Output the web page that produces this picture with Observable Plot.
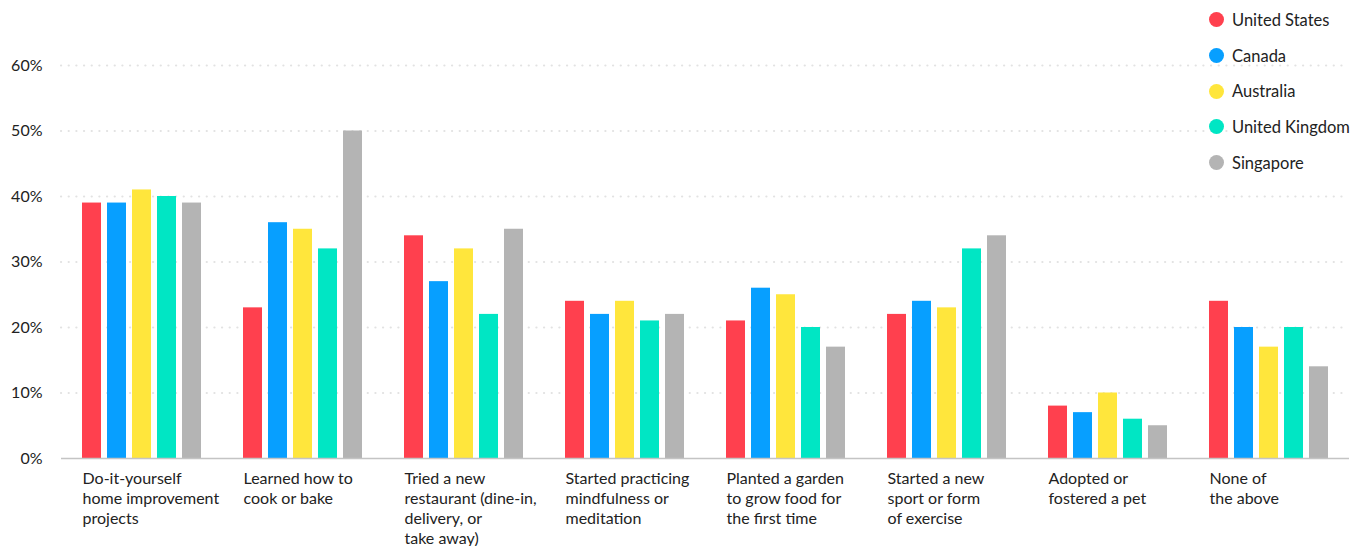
<!DOCTYPE html>
<html>
<head>
<meta charset="utf-8">
<script src="https://cdn.jsdelivr.net/npm/d3@7"></script>
<script src="https://cdn.jsdelivr.net/npm/@observablehq/plot@0.6"></script>
<style>
  html, body { margin: 0; padding: 0; background: #fff; }
  #wrap { position: relative; width: 1366px; height: 546px; font-family: Lato, "Noto Sans", sans-serif; }
  #legend { position: absolute; left: 1209px; top: 2px; }
  .item { display: flex; align-items: center; height: 35.7px; font-size: 16.5px; color: #222; }
  .sw { width: 15px; height: 15px; border-radius: 50%; margin-right: 8px; }
  svg { display: block; }
</style>
</head>
<body>
<div id="wrap"><div id="chart"></div><div id="legend"></div></div>
<script>
const countries = ["United States", "Canada", "Australia", "United Kingdom", "Singapore"];
const colors = ["#ff404e", "#079fff", "#ffe63c", "#00e6c4", "#b4b4b4"];
const categories = ["diy", "cook", "restaurant", "mindfulness", "garden", "sport", "pet", "none"];
const categoryLabels = [
  "Do-it-yourself\nhome improvement\nprojects",
  "Learned how to\ncook or bake",
  "Tried a new\nrestaurant (dine-in,\ndelivery, or\ntake away)",
  "Started practicing\nmindfulness or\nmeditation",
  "Planted a garden\nto grow food for\nthe first time",
  "Started a new\nsport or form\nof exercise",
  "Adopted or\nfostered a pet",
  "None of\nthe above"
];
const unitedStates  = [39, 23, 34, 24, 21, 22, 8, 24];
const canada        = [39, 36, 27, 22, 26, 24, 7, 20];
const australia     = [41, 35, 32, 24, 25, 23, 10, 17];
const unitedKingdom = [40, 32, 22, 21, 20, 32, 6, 20];
const singapore     = [39, 50, 35, 22, 17, 34, 5, 14];
const yTicks = [0, 10, 20, 30, 40, 50, 60];

const series = [unitedStates, canada, australia, unitedKingdom, singapore];
const data = [];
categories.forEach((c, i) => {
  countries.forEach((k, j) => data.push({category: c, country: k, value: series[j][i]}));
});
const labelRows = categories.map((c, i) => ({category: c, label: categoryLabels[i]}));

const chart = Plot.plot({
  width: 1366,
  height: 546,
  marginLeft: 61,
  marginRight: 16,
  marginTop: 65,
  marginBottom: 88,
  style: {fontFamily: "Lato, 'Noto Sans', sans-serif", fontSize: "16px", color: "#222", background: "#fff"},
  fx: {domain: categories, paddingInner: 0.26, paddingOuter: 0.13, axis: null, label: null},
  x: {domain: countries, paddingInner: 0.24, paddingOuter: 0, axis: null},
  y: {domain: [0, 60], ticks: yTicks, tickFormat: d => d + "%", tickSize: 0, tickPadding: 40, label: null},
  color: {domain: countries, range: colors},
  marks: [
    Plot.ruleY(yTicks.slice(1), {stroke: "#e2e2e2", strokeWidth: 2.2, strokeDasharray: "0.1,7.57", strokeLinecap: "round", insetLeft: -21, insetRight: -21}),
    Plot.barY(data, {fx: "category", x: "country", y: "value", fill: "country"}),
    Plot.ruleY([0], {stroke: "#c4c4c4", strokeWidth: 1.6, insetLeft: -21, insetRight: -21}),
    Plot.text(labelRows, {fx: "category", text: "label", frameAnchor: "bottom-left", textAnchor: "start", lineAnchor: "top", dy: 11, lineHeight: 1.25, fontSize: 16, fill: "#222"})
  ]
});
document.getElementById("chart").appendChild(chart);

const legend = document.getElementById("legend");
countries.forEach((k, i) => {
  const item = document.createElement("div");
  item.className = "item";
  const sw = document.createElement("div");
  sw.className = "sw";
  sw.style.background = colors[i];
  const t = document.createElement("span");
  t.textContent = k;
  item.appendChild(sw);
  item.appendChild(t);
  legend.appendChild(item);
});
</script>
</body>
</html>
